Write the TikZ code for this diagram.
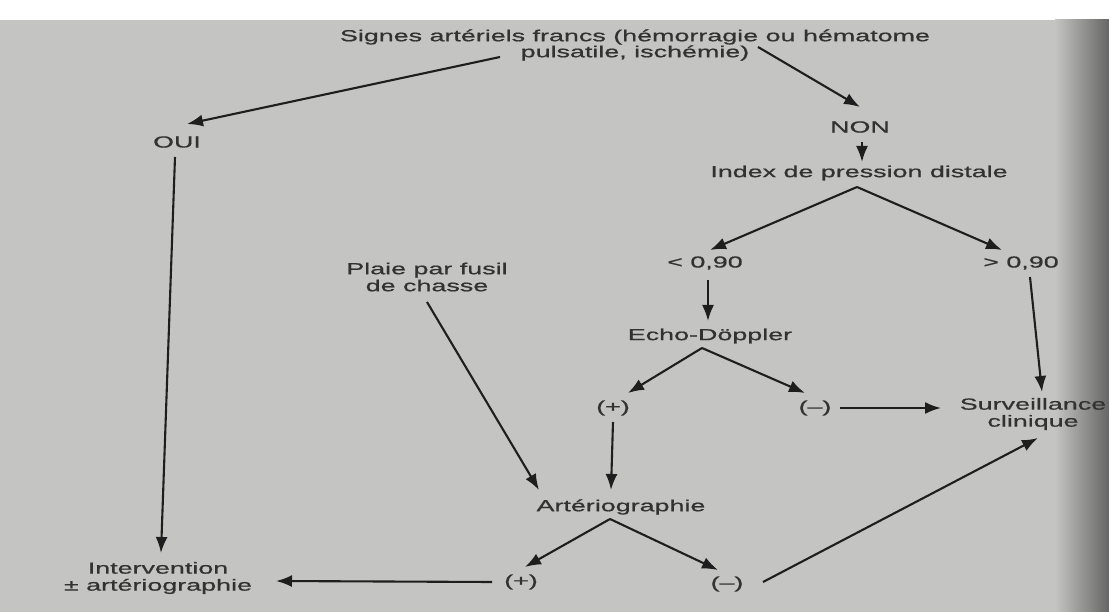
\documentclass[tikz,border=0pt]{standalone}
\usepackage{fontspec}
\setmainfont{Liberation Sans}[FakeStretch=1.68, FakeBold=0.8]
\usetikzlibrary{arrows.meta}
\definecolor{bg}{RGB}{196,196,194}
\definecolor{ink}{RGB}{50,50,50}
\definecolor{lineink}{RGB}{30,30,30}
\begin{document}
\begin{tikzpicture}[x=1pt,y=-1pt,
  lbl/.style={font=\fontsize{16}{17}\selectfont, text=ink, inner sep=1pt, align=center},
  arr/.style={draw=lineink, line width=2.1pt, -{Latex[length=16pt,width=12pt]}}]
\useasboundingbox (0,0) rectangle (1109,612);
\fill[bg] (0,0) rectangle (1109,612);
\fill[white] (0,0) rectangle (1109,20);
\shade[left color=bg, right color=black!60] (1055,20) rectangle (1109,612);

\node[lbl] (t1) at (635,37) {Signes artériels francs (hémorragie ou hématome};
\node[lbl] (t2) at (635,53) {pulsatile, ischémie)};
\node[lbl] (oui) at (177,142) {OUI};
\node[lbl] (non) at (860,127) {NON};
\node[lbl] (idx) at (859,173) {Index de pression distale};
\node[lbl] (lt) at (705,263) {< 0,90};
\node[lbl] (gt) at (1021,263) {> 0,90};
\node[lbl] (echo) at (710,336) {Echo-Döppler};
\node[lbl] (ep) at (613,408) {(+)};
\node[lbl] (em) at (815,408) {(–)};
\node[lbl] (surv) at (1033,414) {Surveillance\\clinique};
\node[lbl] (plaie) at (427,277) {Plaie par fusil\\de chasse};
\node[lbl] (art) at (621,507) {Artériographie};
\node[lbl] (ap) at (521,582) {(+)};
\node[lbl] (am) at (727,584) {(–)};
\node[lbl] (int) at (158,578) {Intervention\\± artériographie};

\draw[arr] ([shift={(-135,4)}]t2.center) -- ([shift={(10,-18)}]oui.center);
\draw[arr] ([shift={(123,-6)}]t2.center) -- ([shift={(0,-20)}]non.center);
\draw[arr] ([shift={(2,15)}]non.center) -- ([shift={(3,-11)}]idx.center);
\draw[arr] ([shift={(-2,14)}]idx.center) -- ([shift={(5,-13)}]lt.center);
\draw[arr] ([shift={(-2,14)}]idx.center) -- ([shift={(-19,-13)}]gt.center);
\draw[arr] ([shift={(3,17)}]lt.center) -- ([shift={(-2,-15)}]echo.center);
\draw[arr] ([shift={(-8,12)}]echo.center) -- ([shift={(15,-15)}]ep.center);
\draw[arr] ([shift={(-8,12)}]echo.center) -- ([shift={(-10,-15)}]em.center);
\draw[arr] ([shift={(25,0)}]em.center) -- ([shift={(-92,-6)}]surv.center);
\draw[arr] ([shift={(9,14)}]gt.center) -- ([shift={(9,-22)}]surv.center);
\draw[arr] ([shift={(0,14)}]ep.center) -- ([shift={(-10,-17)}]art.center);
\draw[arr] ([shift={(0,25)}]plaie.center) -- ([shift={(-82,-17)}]art.center);
\draw[arr] ([shift={(-11,12)}]art.center) -- ([shift={(4,-15)}]ap.center);
\draw[arr] ([shift={(-11,12)}]art.center) -- ([shift={(-9,-14)}]am.center);
\draw[arr] ([shift={(-29,0)}]ap.center) -- ([shift={(118,3)}]int.center);
\draw[arr] ([shift={(36,-2)}]am.center) -- ([shift={(5,24)}]surv.center);
\draw[arr] ([shift={(-2,15)}]oui.center) -- ([shift={(3,-25)}]int.center);
\end{tikzpicture}
\end{document}
